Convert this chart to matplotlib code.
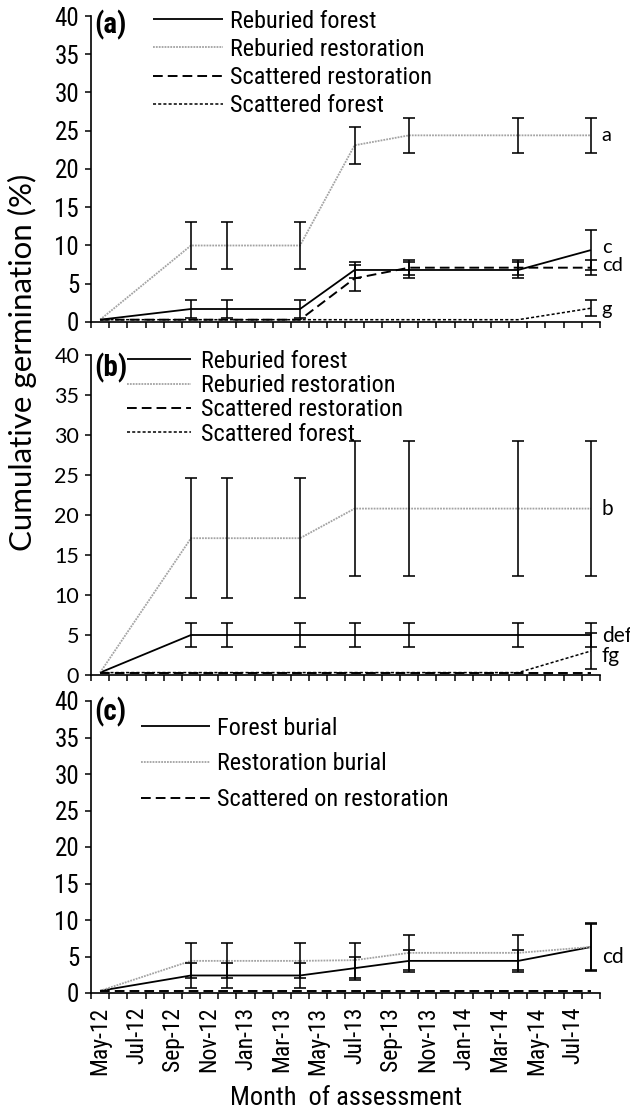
import numpy as np
import matplotlib
matplotlib.use("Agg")
import matplotlib.pyplot as plt
from matplotlib import font_manager as fm

# ---------------- data ----------------
assess_months = ['May-12', 'Oct-12', 'Dec-12', 'Apr-13', 'Jul-13', 'Oct-13', 'Apr-14', 'Aug-14']
tick_months = ['May-12', 'Jul-12', 'Sep-12', 'Nov-12', 'Jan-13', 'Mar-13', 'May-13',
               'Jul-13', 'Sep-13', 'Nov-13', 'Jan-14', 'Mar-14', 'May-14', 'Jul-14']

# panel (a)
a_labels = ['Reburied forest', 'Reburied restoration', 'Scattered restoration', 'Scattered forest']
a_reb_forest = [0.3, 1.7, 1.7, 1.7, 6.8, 6.8, 6.8, 9.4]
a_reb_forest_err = [0, 1.2, 1.2, 1.2, 1.1, 1.1, 1.1, 2.6]
a_reb_rest = [0.3, 10.0, 10.0, 10.0, 23.1, 24.4, 24.4, 24.4]
a_reb_rest_err = [0, 3.1, 3.1, 3.1, 2.4, 2.25, 2.25, 2.25]
a_sc_rest = [0.3, 0.3, 0.3, 0.3, 5.7, 7.1, 7.1, 7.1]
a_sc_rest_err = [0, 0, 0, 0, 1.7, 1.0, 1.0, 1.0]
a_sc_forest = [0.3, 0.3, 0.3, 0.3, 0.3, 0.3, 0.3, 1.8]
a_sc_forest_err = [0, 0, 0, 0, 0, 0, 0, 1.05]
a_letters = [('a', 24.4), ('c', 9.8), ('cd', 7.4), ('g', 1.6)]

# panel (b)
b_labels = ['Reburied forest', 'Reburied restoration', 'Scattered restoration', 'Scattered forest']
b_reb_forest = [0.3, 5.0, 5.0, 5.0, 5.0, 5.0, 5.0, 5.0]
b_reb_forest_err = [0, 1.45, 1.45, 1.45, 1.45, 1.45, 1.45, 1.45]
b_reb_rest = [0.3, 17.1, 17.1, 17.1, 20.8, 20.8, 20.8, 20.8]
b_reb_rest_err = [0, 7.5, 7.5, 7.5, 8.4, 8.4, 8.4, 8.4]
b_sc_rest = [0.3, 0.3, 0.3, 0.3, 0.3, 0.3, 0.3, 0.3]
b_sc_rest_err = [0, 0, 0, 0, 0, 0, 0, 0]
b_sc_forest = [0.3, 0.3, 0.3, 0.3, 0.3, 0.3, 0.3, 3.0]
b_sc_forest_err = [0, 0, 0, 0, 0, 0, 0, 2.3]
b_letters = [('b', 20.8), ('def', 4.9), ('fg', 2.4)]

# panel (c)
c_labels = ['Forest burial', 'Restoration burial', 'Scattered on restoration']
c_forest = [0.3, 2.4, 2.4, 2.4, 3.4, 4.4, 4.4, 6.3]
c_forest_err = [0, 1.7, 1.7, 1.7, 1.6, 1.5, 1.5, 3.1]
c_rest = [0.3, 4.4, 4.4, 4.4, 4.5, 5.5, 5.5, 6.3]
c_rest_err = [0, 2.4, 2.4, 2.4, 2.4, 2.4, 2.4, 3.3]
c_scatter = [0.3, 0.3, 0.3, 0.3, 0.3, 0.3, 0.3, 0.3]
c_scatter_err = [0, 0, 0, 0, 0, 0, 0, 0]
c_letters = [('cd', 4.9)]

# ---------------- fonts ----------------
_fonts = fm.fontManager.ttflist


def _is_w(f, bold):
    w = f.weight
    if isinstance(w, str):
        w = {'normal': 400, 'regular': 400, 'book': 400, 'bold': 700}.get(w, 400)
    return (w >= 650 and w <= 750) if bold else (w >= 350 and w <= 450)


def _find_cond(bold):
    for pref in ['Liberation Sans Narrow', 'Arial Narrow', 'Roboto Condensed', 'Open Sans Condensed']:
        hit = [f for f in _fonts if f.name == pref and f.style == 'normal' and _is_w(f, bold)]
        if hit:
            return hit[0].fname
    hit = [f for f in _fonts if f.name == 'DejaVu Sans' and f.stretch == 'condensed'
           and f.style == 'normal' and _is_w(f, bold)]
    if hit:
        return hit[0].fname
    return None


COND_REG = _find_cond(False)
COND_BOLD = _find_cond(True)
HAVE_NARROW = COND_REG is not None


def nfont(size, bold=False):
    fn = COND_BOLD if bold else COND_REG
    if fn is not None:
        return fm.FontProperties(fname=fn, size=size)
    return fm.FontProperties(family=['Liberation Sans', 'DejaVu Sans'], size=size,
                             weight='bold' if bold else 'normal')


LEG_FS = 17.5 if HAVE_NARROW else 15.5

# ---------------- helpers ----------------
MONTHS = ['Jan', 'Feb', 'Mar', 'Apr', 'May', 'Jun', 'Jul', 'Aug', 'Sep', 'Oct', 'Nov', 'Dec']


def month_pos(s):
    m, y = s.split('-')
    idx = (2000 + int(y) - 2012) * 12 + MONTHS.index(m) - 4
    return idx + 0.5  # centred in the month interval (date axis)


x = np.array([month_pos(s) for s in assess_months])

W, H = 630, 1113
fig = plt.figure(figsize=(W / 100, H / 100), dpi=100)
CAL = ['Lato', 'DejaVu Sans']

styles = [
    dict(color='black', lw=1.3, ls='-'),
    dict(color='#a3a3a3', lw=1.3, ls=(0, (1.0, 0.6))),
    dict(color='black', lw=1.4, ls=(0, (5.0, 2.6))),
    dict(color='black', lw=1.1, ls=(0, (2.0, 1.4))),
]


def make_axes(top_px, bot_px, left_px=91, right_px=600):
    return fig.add_axes([left_px / W, 1 - bot_px / H, (right_px - left_px) / W, (bot_px - top_px) / H])


def setup(ax, tickprops, show_xlabels):
    ax.set_xlim(0, 28)
    ax.set_ylim(0, 40)
    ax.set_yticks(np.arange(0, 41, 5))
    ax.set_xticks(np.arange(0, 29, 1))
    ax.set_xticklabels([])
    for s in ['top', 'right']:
        ax.spines[s].set_visible(False)
    for s in ['left', 'bottom']:
        ax.spines[s].set_linewidth(1.2)
    ax.tick_params(axis='both', which='major', direction='out', length=4.5, width=1.1)
    ax.tick_params(axis='y', pad=4)
    for t in ax.get_yticklabels():
        t.set_fontproperties(tickprops)
    if show_xlabels:
        ax.set_xticks([month_pos(m) for m in tick_months], minor=True)
        ax.set_xticklabels(tick_months, minor=True, rotation=90,
                           fontproperties=nfont(17 if HAVE_NARROW else 15))
        ax.tick_params(axis='x', which='minor', length=0, pad=10)


def draw(ax, series, errs, labels, letters, letfont, leg_px, row_px, hl_px, hp_px):
    handles = []
    for ys, st, lab in zip(series, styles, labels):
        h, = ax.plot(x, ys, color=st['color'], lw=st['lw'], ls=st['ls'], label=lab,
                     solid_capstyle='butt', dash_capstyle='butt', zorder=2)
        handles.append(h)
    for ys, es in zip(series, errs):
        ys = np.asarray(ys, float)
        es = np.asarray(es, float)
        m = es > 0
        if m.any():
            ax.errorbar(x[m], ys[m], yerr=es[m], fmt='none', ecolor='black', elinewidth=1.15,
                        capsize=4.5, capthick=1.15, zorder=3)
    for txt, yv in letters:
        ax.text(28.1, yv, txt, ha='left', va='center', fontsize=letfont[1],
                family=letfont[0], clip_on=False)
    fs_px = LEG_FS * 100 / 72
    text_h = 0.92 * fs_px
    leg = ax.legend(handles=handles, loc='upper left', frameon=False,
                    bbox_to_anchor=(leg_px[0] / W, 1 - (leg_px[1] - text_h / 2) / H),
                    bbox_transform=fig.transFigure, borderpad=0, borderaxespad=0,
                    handlelength=hl_px / fs_px, handletextpad=hp_px / fs_px,
                    labelspacing=(row_px - text_h) / fs_px,
                    prop=nfont(LEG_FS))
    return leg


def panel_label(ax, txt, yfrac):
    ax.text(0.006, yfrac, txt, transform=ax.transAxes, ha='left', va='center',
            fontproperties=nfont(21, bold=True))


# panel a
axa = make_axes(16, 322)
setup(axa, nfont(18 if HAVE_NARROW else 16.5), False)
draw(axa, [a_reb_forest, a_reb_rest, a_sc_rest, a_sc_forest],
     [a_reb_forest_err, a_reb_rest_err, a_sc_rest_err, a_sc_forest_err],
     a_labels, a_letters, (CAL, 14.5), (153, 21), 27.5, 70, 6.5)
panel_label(axa, '(a)', 0.97)

# panel b
axb = make_axes(355, 675)
setup(axb, fm.FontProperties(family=CAL, size=15.5), False)
draw(axb, [b_reb_forest, b_reb_rest, b_sc_rest, b_sc_forest],
     [b_reb_forest_err, b_reb_rest_err, b_sc_rest_err, b_sc_forest_err],
     b_labels, b_letters, (CAL, 15), (127, 361), 23.7, 64, 10)
panel_label(axb, '(b)', 0.96)

# panel c
axc = make_axes(701, 993)
setup(axc, nfont(18 if HAVE_NARROW else 16.5), True)
draw(axc, [c_forest, c_rest, c_scatter],
     [c_forest_err, c_rest_err, c_scatter_err],
     c_labels, c_letters, (CAL, 15), (141, 728), 35, 69, 7)
panel_label(axc, '(c)', 0.962)

fig.text(346 / W, 1 - 1098 / H, 'Month  of assessment', ha='center', va='center',
         fontproperties=nfont(19 if HAVE_NARROW else 17))
fig.text(22 / W, 1 - 362 / H, 'Cumulative germination (%)', ha='center', va='center',
         rotation=90, fontsize=22.5, family=CAL)

fig.savefig('out.png', dpi=100)
